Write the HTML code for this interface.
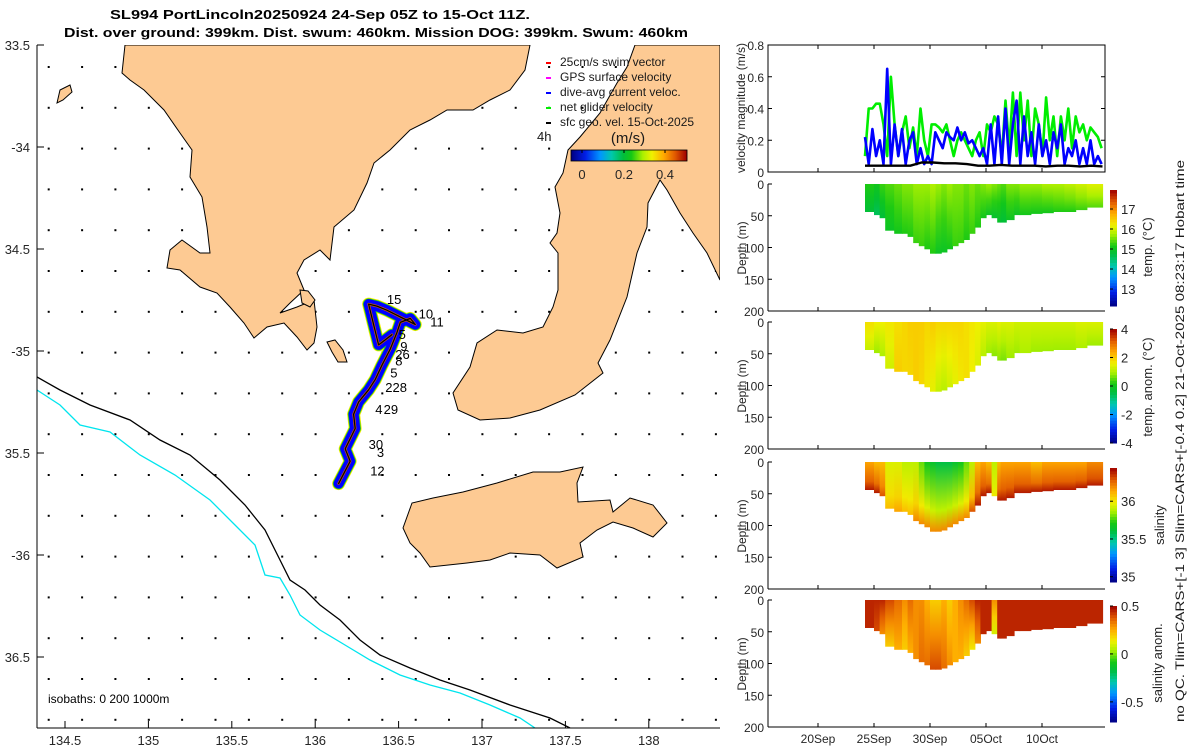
<!DOCTYPE html>
<html><head><meta charset="utf-8"><style>
html,body{margin:0;padding:0;background:#fff;}
svg{display:block;font-family:"Liberation Sans",sans-serif;}
</style></head><body>
<svg id="fig" width="1200" height="750" viewBox="0 0 1200 750" xmlns="http://www.w3.org/2000/svg">
<defs>
<clipPath id="mapclip"><rect x="37" y="45" width="683" height="683"/></clipPath>
</defs>
<g id="title" font-weight="bold" font-size="13" fill="#000">
<text x="110" y="19" textLength="420" lengthAdjust="spacingAndGlyphs">SL994 PortLincoln20250924 24-Sep 05Z to 15-Oct 11Z.</text>
<text x="64" y="37" textLength="624" lengthAdjust="spacingAndGlyphs">Dist. over ground: 399km. Dist. swum: 460km. Mission DOG: 399km. Swum: 460km</text>
</g>
<g id="map" clip-path="url(#mapclip)"></g>
<g id="mapaxes"></g>
<g id="vel"></g>
<g id="sections"></g>
</svg>
<script>
// ---------------- DATA ----------------
const lonTicks = [134.5,135,135.5,136,136.5,137,137.5,138];
const latTicks = [-33.5,-34,-34.5,-35,-35.5,-36,-36.5];
const latTickLabels = ["33.5","-34","34.5","-35","35.5","-36","36.5"];
const trackLon = [136.14,136.21,136.18,136.24,136.23,136.26,136.32,136.36,136.40,136.45,136.49,136.51,136.57,136.60,136.43,136.37,136.32,136.38,136.46];
const trackLat = [-35.65,-35.54,-35.48,-35.38,-35.31,-35.25,-35.19,-35.14,-35.07,-34.99,-34.91,-34.86,-34.84,-34.87,-34.80,-34.78,-34.77,-34.97,-34.92];
const trackLabels = ["15","10","11","5","9","26","8","5","228","29","4","30","3","12"];
const labelLon = [136.43,136.62,136.69,136.50,136.51,136.48,136.48,136.45,136.42,136.41,136.36,136.32,136.37,136.33];
const labelLat = [-34.77,-34.84,-34.88,-34.94,-35.00,-35.04,-35.07,-35.13,-35.20,-35.31,-35.31,-35.48,-35.52,-35.61];

const velStart = 24.2, velStep = 0.33; // days since 0-Sep
const greenVel = [0.1,0.4,0.4,0.43,0.43,0.3,0.1,0.6,0.3,0.1,0.25,0.35,0.15,0.28,0.1,0.4,0.2,0.1,0.3,0.3,0.28,0.25,0.3,0.2,0.1,0.2,0.25,0.2,0.15,0.1,0.2,0.25,0.1,0.3,0.25,0.35,0.3,0.1,0.45,0.15,0.5,0.1,0.5,0.2,0.45,0.1,0.4,0.3,0.1,0.47,0.2,0.35,0.1,0.35,0.2,0.4,0.15,0.35,0.25,0.3,0.2,0.28,0.25,0.22,0.15];
const blueVel = [0.22,0.05,0.27,0.1,0.2,0.05,0.65,0.05,0.3,0.1,0.27,0.05,0.2,0.25,0.05,0.15,0.05,0.1,0.05,0.25,0.2,0.15,0.25,0.22,0.2,0.28,0.2,0.25,0.18,0.2,0.15,0.1,0.15,0.05,0.3,0.05,0.35,0.05,0.4,0.05,0.3,0.45,0.05,0.35,0.1,0.25,0.05,0.3,0.1,0.2,0.05,0.25,0.15,0.3,0.05,0.15,0.1,0.2,0.05,0.15,0.05,0.2,0.05,0.1,0.05];
const blackStep = 1.0;
const blackVel = [0.04,0.04,0.04,0.04,0.04,0.06,0.06,0.055,0.055,0.05,0.04,0.04,0.045,0.04,0.04,0.04,0.035,0.04,0.04,0.035,0.04,0.035];
const velTicks = [0,0.2,0.4,0.6,0.8];
const dateTicks = [20,25,30,35,40];
const dateLabels = ["20Sep","25Sep","30Sep","05Oct","10Oct"];

const secTimes = [24.2,25,25.5,26,26.8,27.5,28,28.5,29,29.5,30,30.5,31,31.5,32,32.5,33,33.5,34,34.5,35,35.5,36,36.3,36.8,37.5,38,39,40,41,42,43,44,45.4];
const secDepth = [40,45,50,55,75,80,75,85,95,100,105,112,110,105,100,95,90,80,70,55,50,50,55,62,58,50,50,48,47,45,45,42,38,38];
const tempSurf = [15.2,15.1,15.3,15.4,15.5,15.6,15.6,15.7,15.7,15.7,15.8,15.7,15.6,15.7,15.6,15.6,15.5,15.6,15.5,15.6,15.7,15.6,15.5,15.4,15.6,15.6,15.7,15.7,15.8,15.8,15.9,16.0,16.1,16.1];
const tempDeep = [14.8,14.6,14.8,15.0,15.1,15.2,15.2,15.3,15.3,15.2,15.2,15.0,15.0,15.1,15.3,15.3,15.2,15.3,15.2,15.1,15.0,14.9,14.9,14.8,15.0,15.0,15.1,15.1,15.1,15.2,15.2,15.3,15.4,15.5];
const anomSurf = [1.8,1.6,1.6,1.7,1.8,1.9,2.0,2.0,2.0,1.9,2.0,1.9,1.9,1.9,1.9,1.9,1.8,1.7,1.6,1.5,1.4,1.4,1.5,1.4,1.4,1.3,1.3,1.3,1.3,1.3,1.3,1.4,1.4,1.4];
const anomDeep = [1.2,0.9,1.0,1.3,2.0,1.9,1.9,2.0,1.9,1.7,1.5,1.2,1.1,1.3,1.5,1.7,1.8,1.6,1.4,1.1,0.9,0.8,0.8,0.7,0.9,0.9,1.0,0.9,0.9,0.9,0.9,1.0,0.9,0.9];
const salSurf = [36.15,36.1,36.1,35.95,35.95,35.9,35.9,35.9,35.8,35.7,35.65,35.6,35.6,35.6,35.65,35.7,35.8,35.9,36.1,36.15,36.1,35.9,36.1,36.15,36.15,36.15,36.15,36.1,36.15,36.15,36.15,36.15,36.2,36.2];
const salDeep = [36.4,36.4,36.3,36.1,36.15,36.1,36.1,36.2,36.2,36.2,36.2,36.2,36.2,36.2,36.2,36.2,36.2,36.3,36.4,36.4,36.4,36.0,36.4,36.4,36.4,36.4,36.4,36.4,36.4,36.4,36.4,36.4,36.4,36.4];
const salAnomSurf = [0.45,0.45,0.45,0.4,0.35,0.3,0.35,0.3,0.3,0.25,0.2,0.2,0.25,0.2,0.25,0.3,0.35,0.4,0.45,0.45,0.45,0.3,0.45,0.45,0.45,0.45,0.45,0.45,0.45,0.45,0.45,0.45,0.45,0.45];
const salAnomDeep = [0.45,0.4,0.3,0.2,0.25,0.2,0.25,0.3,0.35,0.35,0.4,0.4,0.35,0.3,0.25,0.25,0.2,0.15,0.3,0.45,0.45,0.1,0.45,0.45,0.45,0.45,0.45,0.45,0.45,0.45,0.45,0.45,0.45,0.45];
const depthTicks = [0,50,100,150,200];

// ---------------- HELPERS ----------------
const NS = "http://www.w3.org/2000/svg";
function mk(parent, tag, attrs, txt){const e=document.createElementNS(NS,tag);for(const k in attrs)e.setAttribute(k,attrs[k]);if(txt!==undefined)e.textContent=txt;parent.appendChild(e);return e;}
const cmapStops=[[0,[0,0,130]],[0.12,[0,30,230]],[0.25,[0,150,255]],[0.35,[0,200,170]],[0.45,[0,190,60]],[0.52,[20,200,20]],[0.62,[170,240,0]],[0.7,[240,240,0]],[0.8,[255,170,0]],[0.9,[225,90,0]],[1,[160,0,0]]];
function jet(t){t=Math.max(0,Math.min(1,t));for(let i=1;i<cmapStops.length;i++){const [a,ca]=cmapStops[i-1],[b,cb]=cmapStops[i];if(t<=b){const f=(t-a)/(b-a);return `rgb(${ca.map((c,k)=>Math.round(c+(cb[k]-c)*f)).join(',')})`;}}return 'rgb(160,0,0)';}
const lon2x = lon => 65 + (lon-134.5)*166.8;
const lat2y = lat => 45 + (-33.5-lat)*204;
const t2x = d => 874 + (d-25)*11.2;
const v2y = v => 172 - v*158.75;

// ---------------- MAP ----------------
const map = document.getElementById('map');
const dots = mk(map,'g',{fill:'#000'});


for(let gx=48.7; gx<720; gx+=33.36){for(let gy=67; gy<728; gy+=40.8){mk(dots,'rect',{x:(gx-1).toFixed(1),y:(gy-1).toFixed(1),width:2,height:2});}}
const landStyle={fill:'#fdca93',stroke:'#000','stroke-width':1};
const eyre="125,45 122,73 130,80 144,90 164,110 180,133 192,150 190,177 202,197 207,227 210,253 200,253 182,240 170,250 167,268 180,270 200,287 217,293 230,307 244,323 254,338 267,327 284,323 297,337 307,350 314,343 317,327 314,300 297,307 280,313 290,303 304,290 297,273 304,260 320,250 330,260 334,227 354,210 367,183 374,163 390,150 410,130 430,120 447,110 473,110 490,100 510,90 525,70 530,45";
const yorke="635,45 627,67 617,83 600,113 580,137 568,150 563,173 555,187 560,213 557,233 550,243 558,253 558,290 553,307 543,327 523,333 497,330 477,343 470,367 453,393 458,410 480,420 510,418 540,410 575,395 603,373 598,363 610,340 627,297 637,253 647,227 648,203 660,180 667,190 680,213 693,233 707,253 720,280 720,45";
const kangaroo="403,528 412,503 433,498 463,492 497,483 533,472 560,472 583,467 577,483 578,502 610,500 613,512 630,498 653,505 667,523 653,537 633,528 613,522 597,530 580,543 583,557 557,568 540,555 510,553 490,560 467,563 430,567 420,553 410,543";
const isl1="57,103 60,90 70,85 72,92 63,100";
const isl2="300,290 308,291 315,300 310,307 302,303";
const isl3="327,342 335,340 343,350 347,362 338,362 332,352";
[[eyre,'land-eyre-peninsula'],[yorke,'land-yorke-peninsula'],[kangaroo,'land-kangaroo-island'],[isl1,'island-1'],[isl2,'island-2'],[isl3,'island-3']].forEach(([p,n])=>{const e=mk(map,'polygon',Object.assign({points:p},landStyle));});
const iso1 = mk(map,'polyline',{points:"37,377 60,390 90,405 130,420 160,440 190,455 220,480 245,505 265,530 280,560 290,580 305,590 320,605 340,620 360,640 380,655 410,668 440,680 470,690 510,705 550,718 570,728",fill:'none',stroke:'#000','stroke-width':1.3});


const iso2 = mk(map,'polyline',{points:"37,390 60,405 80,425 110,432 140,455 175,475 210,500 235,525 255,545 265,575 280,578 290,595 300,615 320,630 345,645 370,660 400,675 430,685 460,693 490,705 520,718 535,728",fill:'none',stroke:'#00e5ee','stroke-width':1.3});


const trackPts = trackLon.map((lo,i)=>lon2x(lo).toFixed(1)+','+lat2y(trackLat[i]).toFixed(1)).join(' ');
[['#ffee00',13],['#22cc22',11.5],['#0000ff',10],['#e06000',2.5],['#000',1.3]].forEach(([c,w],i)=>{const e=mk(map,'polyline',{points:trackPts,fill:'none',stroke:c,'stroke-width':w,'stroke-linejoin':'round','stroke-linecap':'round'});});
trackLabels.forEach((t,i)=>{const e=mk(map,'text',{x:lon2x(labelLon[i]).toFixed(1),y:lat2y(labelLat[i]).toFixed(1),'font-size':13,fill:'#000'},t);});
const lg = mk(map,'g',{'font-size':12,fill:'#1a1a1a'});


const legItems=[['25cm/s swim vector','#ff0000'],['GPS surface velocity','#ff00ff'],['dive-avg current veloc.','#0000ff'],['net glider velocity','#00ee00'],['sfc geo. vel. 15-Oct-2025','#000']];
legItems.forEach(([t,c],i)=>{const y=62+i*15;const m=mk(lg,'rect',{x:546,y:y,width:5,height:2,fill:c});const e=mk(lg,'text',{x:560,y:y+4},t);});
const h4=mk(map,'text',{x:537,y:141,'font-size':13,fill:'#1a1a1a'},'4h');


const ms=mk(map,'text',{x:628,y:143,'font-size':15,'text-anchor':'middle',fill:'#1a1a1a'},'(m/s)');


for(let i=0;i<116;i++){mk(map,'rect',{x:571+i,y:150,width:1.2,height:11,fill:jet(i/115)});}
mk(map,'rect',{x:571,y:150,width:116,height:11,fill:'none',stroke:'#000','stroke-width':0.8});
[['0',582],['0.2',624],['0.4',665]].forEach(([t,x])=>{mk(map,'line',{x1:x,y1:150,x2:x,y2:153,stroke:'#000'});const e=mk(map,'text',{x:x,y:179,'font-size':13,'text-anchor':'middle',fill:'#262626'},t);});
const isoT=mk(map,'text',{x:48,y:703,'font-size':12,fill:'#000'},'isobaths: 0   200   1000m');


isoT.setAttribute('xml:space','preserve');

const ma=document.getElementById('mapaxes');
mk(ma,'line',{x1:37,y1:45,x2:37,y2:728,stroke:'#000'});
mk(ma,'line',{x1:37,y1:728,x2:720,y2:728,stroke:'#000'});
lonTicks.forEach(l=>{const x=lon2x(l);mk(ma,'line',{x1:x,y1:728,x2:x,y2:721,stroke:'#000'});const e=mk(ma,'text',{x:x,y:745,'font-size':13,'text-anchor':'middle',fill:'#262626'},String(l));});
latTicks.forEach((l,i)=>{const y=lat2y(l);mk(ma,'line',{x1:37,y1:y,x2:44,y2:y,stroke:'#000'});const e=mk(ma,'text',{x:30,y:y+5,'font-size':13,'text-anchor':'end',fill:'#262626'},latTickLabels[i]);});

// ---------------- VELOCITY PANEL ----------------
const vel=document.getElementById('vel');
mk(vel,'rect',{x:768,y:45,width:337,height:127,fill:'none',stroke:'#000','stroke-width':1});
velTicks.forEach(v=>{const y=v2y(v);mk(vel,'line',{x1:768,y1:y,x2:772,y2:y,stroke:'#000'});mk(vel,'line',{x1:1101,y1:y,x2:1105,y2:y,stroke:'#000'});const e=mk(vel,'text',{x:764,y:y+5,'font-size':12,'text-anchor':'end',fill:'#262626'},String(v));});
dateTicks.forEach(d=>{mk(vel,'line',{x1:t2x(d),y1:172,x2:t2x(d),y2:168,stroke:'#000'});mk(vel,'line',{x1:t2x(d),y1:45,x2:t2x(d),y2:49,stroke:'#000'});});
const vl=mk(vel,'text',{x:0,y:0,'font-size':12,'text-anchor':'middle',fill:'#262626',transform:'translate(745,108) rotate(-90)'},'velocity magnitude (m/s)');


function velLine(arr,step,color,w,name){const pts=arr.map((v,i)=>t2x(velStart+i*step).toFixed(1)+','+v2y(v).toFixed(1)).join(' ');const e=mk(vel,'polyline',{points:pts,fill:'none',stroke:color,'stroke-width':w,'stroke-linejoin':'round'});}
velLine(greenVel,velStep,'#00ee00',2.6,'net-glider-velocity-line');
velLine(blueVel,velStep,'#0000ff',2.6,'dive-avg-current-line');
velLine(blackVel,blackStep*(21.2/21),'#000',2.4,'sfc-geo-velocity-line');

// ---------------- SECTIONS ----------------
const secG=document.getElementById('sections');
const defs=document.querySelector('defs');
const panels=[
 {name:'temperature',top:184,surf:tempSurf,deep:tempDeep,vmin:12.15,vmax:17.95,cbTop:190,cbBot:306,ticks:[13,14,15,16,17],tl:['13','14','15','16','17'],label:'temp. (°C)',lx:1152,ly:247,mid:0.5},
 {name:'temperature-anomaly',top:322,surf:anomSurf,deep:anomDeep,vmin:-4,vmax:4,cbTop:329,cbBot:443,ticks:[-4,-2,0,2,4],tl:['-4','-2','0','2','4'],label:'temp. anom. (°C)',lx:1152,ly:387,mid:0.5},
 {name:'salinity',top:462,surf:salSurf,deep:salDeep,vmin:34.93,vmax:36.44,cbTop:468,cbBot:582,ticks:[35,35.5,36],tl:['35','35.5','36'],label:'salinity',lx:1164,ly:525,mid:0.7},
 {name:'salinity-anomaly',top:600,surf:salAnomSurf,deep:salAnomDeep,vmin:-0.71,vmax:0.5,cbTop:606,cbBot:722,ticks:[-0.5,0,0.5],tl:['-0.5','0','0.5'],label:'salinity anom.',lx:1162,ly:663,mid:0.5}
];
panels.forEach((p,pi)=>{
 const g=mk(secG,'g',{});
 
 
 const d2y=d=>p.top+d*127/200;
 const col=v=>jet((v-p.vmin)/(p.vmax-p.vmin));
 for(let i=0;i<secTimes.length-1;i++){
  const gid='gr'+pi+'_'+i;
  const lgd=mk(defs,'linearGradient',{id:gid,x1:0,y1:0,x2:0,y2:1});
  mk(lgd,'stop',{offset:'0','stop-color':col(p.surf[i])});
  mk(lgd,'stop',{offset:String(p.mid),'stop-color':col((p.surf[i]+p.deep[i])/2)});
  mk(lgd,'stop',{offset:'1','stop-color':col(p.deep[i])});
  const x0=t2x(secTimes[i]),x1=t2x(secTimes[i+1]);
  const r=mk(g,'rect',{x:x0.toFixed(1),y:p.top,width:(x1-x0+0.6).toFixed(1),height:(d2y(Math.max(secDepth[i],secDepth[i+1])*0.98)-p.top).toFixed(1),fill:`url(#${gid})`});
  
  
 }
 mk(g,'line',{x1:768,y1:p.top,x2:768,y2:p.top+127,stroke:'#000'});
 mk(g,'line',{x1:768,y1:p.top+127,x2:1105,y2:p.top+127,stroke:'#000'});
 depthTicks.forEach(d=>{const y=d2y(d);mk(g,'line',{x1:768,y1:y,x2:772,y2:y,stroke:'#000'});const e=mk(g,'text',{x:764,y:y+5,'font-size':12,'text-anchor':'end',fill:'#262626'},String(d));});
 dateTicks.forEach(d=>{mk(g,'line',{x1:t2x(d),y1:p.top+127,x2:t2x(d),y2:p.top+123,stroke:'#000'});});
 const yl=mk(g,'text',{x:0,y:0,'font-size':12,'text-anchor':'middle',fill:'#262626',transform:`translate(746,${p.top+64}) rotate(-90)`},'Depth (m)');
 
 
 const n=40,h=p.cbBot-p.cbTop;
 for(let k=0;k<n;k++){mk(g,'rect',{x:1110,y:(p.cbBot-(k+1)*h/n).toFixed(1),width:7,height:(h/n+0.5).toFixed(1),fill:jet((k+0.5)/n)});}
 p.ticks.forEach((t,k)=>{const y=p.cbBot-(t-p.vmin)/(p.vmax-p.vmin)*h;mk(g,'line',{x1:1110,y1:y,x2:1113,y2:y,stroke:'#000'});const e=mk(g,'text',{x:1121,y:y+5,'font-size':13,fill:'#262626'},p.tl[k]);});
 const cl=mk(g,'text',{x:0,y:0,'font-size':13,'text-anchor':'middle',fill:'#262626',transform:`translate(${p.lx},${p.ly}) rotate(-90)`},p.label);
 
 
});
dateTicks.forEach((d,i)=>{const e=mk(secG,'text',{x:t2x(d),y:743,'font-size':12,'text-anchor':'middle',fill:'#262626'},dateLabels[i]);});
const info=mk(secG,'text',{x:0,y:0,'font-size':12,'text-anchor':'middle',fill:'#1a1a1a',transform:'translate(1184,441) rotate(-90)',textLength:562,lengthAdjust:'spacingAndGlyphs'},'no QC. Tlim=CARS+[-1 3] Slim=CARS+[-0.4 0.2] 21-Oct-2025 08:23:17 Hobart time');


</script>
</body></html>
